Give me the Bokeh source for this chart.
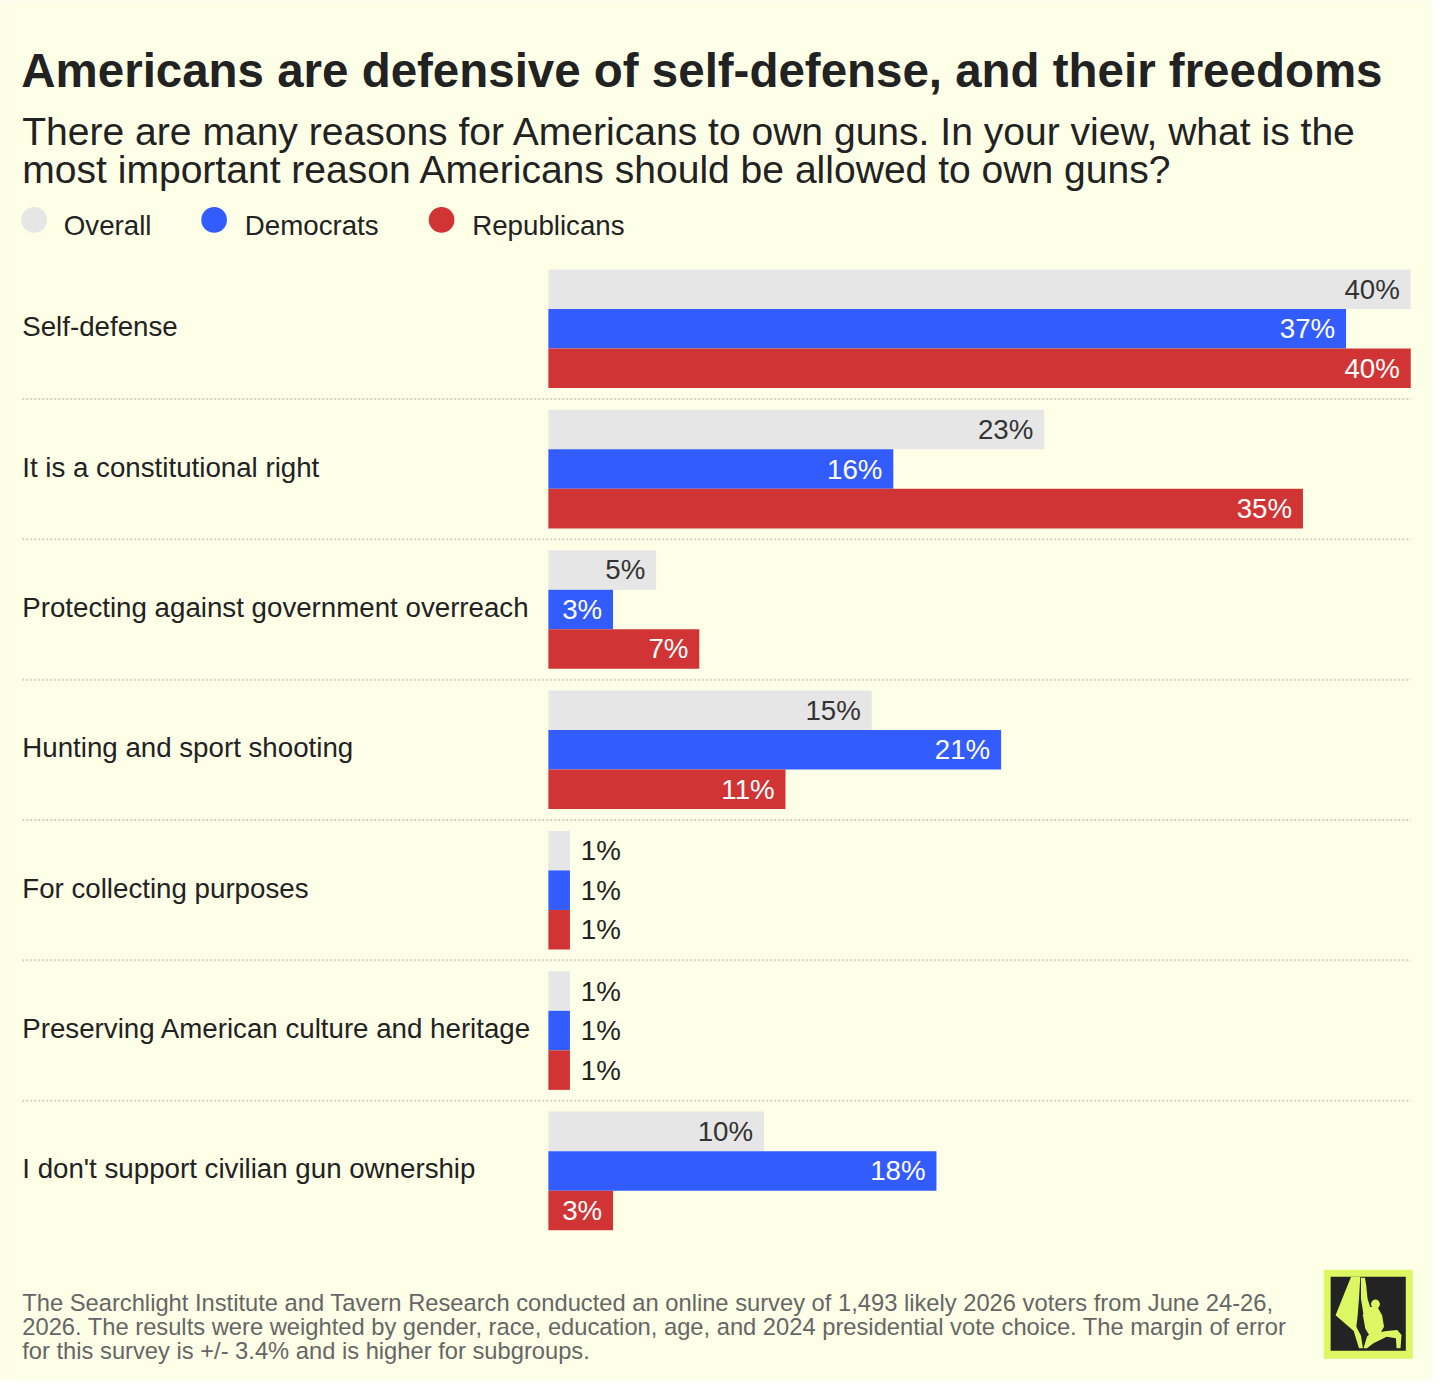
from bokeh.plotting import figure
from bokeh.models import ColumnDataSource, Range1d
from bokeh.core.properties import value
from bokeh.embed import file_html
from bokeh.resources import INLINE

# ---------------- data ----------------
title = "Americans are defensive of self-defense, and their freedoms"
subtitle_lines = [
    "There are many reasons for Americans to own guns. In your view, what is the",
    "most important reason Americans should be allowed to own guns?",
]
series_names = ["Overall", "Democrats", "Republicans"]
categories = [
    "Self-defense",
    "It is a constitutional right",
    "Protecting against government overreach",
    "Hunting and sport shooting",
    "For collecting purposes",
    "Preserving American culture and heritage",
    "I don't support civilian gun ownership",
]
overall = [40, 23, 5, 15, 1, 1, 10]
democrats = [37, 16, 3, 21, 1, 1, 18]
republicans = [40, 35, 7, 11, 1, 1, 3]
footer_lines = [
    "The Searchlight Institute and Tavern Research conducted an online survey of 1,493 likely 2026 voters from June 24-26,",
    "2026. The results were weighted by gender, race, education, age, and 2024 presidential vote choice. The margin of error",
    "for this survey is +/- 3.4% and is higher for subgroups.",
]

# ---------------- style / layout ----------------
BG = "#FEFFE7"
COLORS = ["#E6E6E6", "#335CFF", "#D13434"]
TEXT = "#222222"
FONT = value("Liberation Sans")

REF_W, REF_H = 1448, 1396
W, H = 1432, 1380
S = W / REF_W  # layout scale


def fs(px):
    return f"{px * S:.2f}px"


BAR_X0 = 554.0
PX_PER_PCT = 21.8
GROUP_TOP = 261.0
GROUP_H = 142.0
BAR_H = 40.0


def dx(ix):
    return (ix - BAR_X0) / PX_PER_PCT


def dy(iy):
    return (iy - GROUP_TOP) / GROUP_H


p = figure(
    width=W, height=H,
    x_range=Range1d(dx(0), dx(REF_W)),
    y_range=Range1d(dy(REF_H), dy(0)),
    output_backend="svg", toolbar_location=None,
    x_axis_location=None, y_axis_location=None,
    min_border=0,
    background_fill_color=BG, border_fill_color=BG,
    outline_line_color=None,
)
p.grid.visible = False

n = len(categories)

# separators
sep_y = [i + 1 for i in range(n - 1)]
p.segment(x0=[dx(22)] * len(sep_y), x1=[dx(1426)] * len(sep_y), y0=sep_y, y1=sep_y,
          line_color="#D2D4C0", line_width=2, line_dash="2 2")

# bars
off = BAR_H / GROUP_H
offsets = [-off, 0.0, off]
all_vals = [overall, democrats, republicans]
lab_x, lab_y, lab_t, lab_c, lab_a = [], [], [], [], []
pad = 11 / PX_PER_PCT
for k, vals in enumerate(all_vals):
    ys = [i + 0.5 + offsets[k] for i in range(n)]
    src = ColumnDataSource(dict(y=ys, right=vals, cat=categories))
    p.hbar(y="y", left=0, right="right", height=off, source=src,
           fill_color=COLORS[k], line_color=None)
    for v, yy in zip(vals, ys):
        lab_y.append(yy)
        lab_t.append(f"{v}%")
        if v >= 3:
            lab_x.append(v - pad)
            lab_a.append("right")
            lab_c.append("#333333" if k == 0 else "#FFFFFF")
        else:
            lab_x.append(v + pad)
            lab_a.append("left")
            lab_c.append(TEXT)

p.text(x="x", y="y", text="t", text_color="c", text_align="a",
       source=ColumnDataSource(dict(x=lab_x, y=lab_y, t=lab_t, c=lab_c, a=lab_a)),
       text_baseline="middle", text_font=FONT, text_font_size=fs(28))

# category labels
p.text(x=[dx(22)] * n, y=[i + 0.5 - 2 / GROUP_H for i in range(n)], text=categories,
       text_align="left", text_baseline="middle", text_font=FONT,
       text_font_size=fs(28), text_color=TEXT)

# title & subtitle
p.text(x=[dx(21)], y=[dy(71)], text=[title], text_align="left",
       text_baseline="alphabetic", text_font=FONT, text_font_size=fs(48),
       text_font_style="bold", text_color=TEXT)
p.text(x=[dx(22)] * 2, y=[dy(133), dy(171)], text=subtitle_lines, text_align="left",
       text_baseline="alphabetic", text_font=FONT, text_font_size=fs(39.5),
       text_color=TEXT)

# legend
p.scatter(x=[dx(34), dx(216), dx(446)], y=[dy(222)] * 3, marker="circle", size=26 * S,
          fill_color=COLORS, line_color=None)
p.text(x=[dx(64), dx(247), dx(477)], y=[dy(228)] * 3, text=series_names,
       text_align="left", text_baseline="alphabetic", text_font=FONT,
       text_font_size=fs(28), text_color=TEXT)

# footer
p.text(x=[dx(22)] * 3, y=[dy(1318), dy(1342), dy(1366)], text=footer_lines,
       text_align="left", text_baseline="alphabetic", text_font=FONT,
       text_font_size=fs(24), text_color="#666666")

# logo
def zx(z):
    return dx(1335 + z / 3)


def zy(z):
    return dy(1280 + z / 3)


LOGO_Y = "#DDF763"
LOGO_D = "#232323"
p.quad(left=[dx(1338)], right=[dx(1428)], top=[dy(1284)], bottom=[dy(1374)],
       fill_color=LOGO_Y, line_color=None)
p.quad(left=[dx(1345)], right=[dx(1421)], top=[dy(1291)], bottom=[dy(1366)],
       fill_color=LOGO_D, line_color=None)
beam = [(92, 33), (120, 33), (116, 100), (112, 150), (108, 185), (122, 212),
        (128, 250), (116, 250), (100, 198), (45, 150)]
arms = [(122, 36), (134, 36), (138, 60), (142, 100), (150, 125), (140, 150),
        (130, 150), (122, 100)]
torso = [(140, 125), (172, 125), (186, 150), (192, 185), (180, 205), (150, 215),
         (135, 190), (128, 150)]
leg = [(150, 205), (200, 198), (232, 195), (245, 210), (242, 250), (230, 250),
       (228, 220), (200, 215), (160, 235), (140, 250), (130, 250), (140, 215)]
shapes = [beam, arms, torso, leg]
p.patches(xs=[[zx(a) for a, b in s] for s in shapes],
          ys=[[zy(b) for a, b in s] for s in shapes],
          fill_color=LOGO_Y, line_color=None)
p.scatter(x=[zx(166)], y=[zy(116)], marker="circle", size=9 * S,
          fill_color=LOGO_Y, line_color=None)

open("out.html", "w").write(file_html(p, INLINE))
